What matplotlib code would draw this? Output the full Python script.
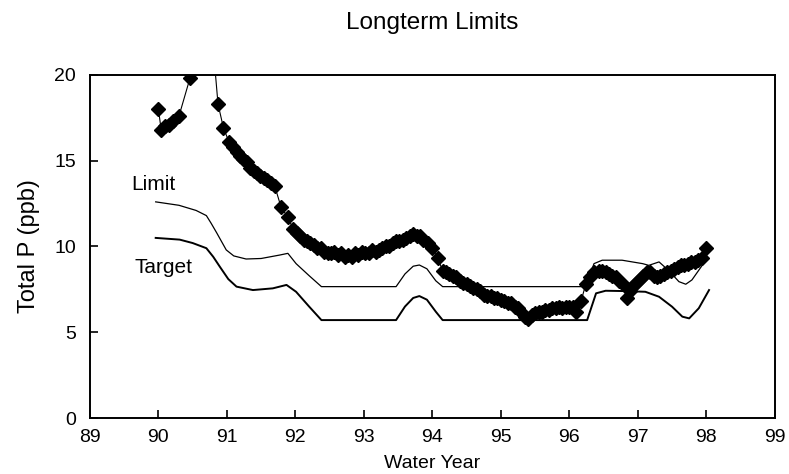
import matplotlib.pyplot as plt

plt.rcParams['font.family'] = ['Liberation Sans', 'DejaVu Sans']

# observed total P (diamonds)
obs_year = [90.00, 90.04, 90.10, 90.16, 90.22, 90.30, 90.46, 90.62, 90.78, 90.87,
            90.95, 91.03, 91.09, 91.14, 91.19, 91.24, 91.29, 91.34, 91.39, 91.44,
            91.49, 91.54, 91.59, 91.64, 91.70, 91.79, 91.89, 91.97, 92.02, 92.07,
            92.12, 92.17, 92.22, 92.27, 92.32, 92.37, 92.42, 92.47, 92.52, 92.57,
            92.62, 92.67, 92.72, 92.77, 92.82, 92.87, 92.92, 92.97, 93.02, 93.07,
            93.12, 93.17, 93.22, 93.27, 93.32, 93.37, 93.42, 93.47, 93.52, 93.57,
            93.62, 93.67, 93.72, 93.77, 93.82, 93.87, 93.93, 94.00, 94.08, 94.15,
            94.20, 94.25, 94.30, 94.35, 94.40, 94.45, 94.50, 94.55, 94.60, 94.65,
            94.70, 94.75, 94.80, 94.85, 94.90, 94.95, 95.00, 95.05, 95.10, 95.15,
            95.20, 95.25, 95.30, 95.35, 95.40, 95.45, 95.50, 95.55, 95.60, 95.65,
            95.70, 95.75, 95.80, 95.85, 95.90, 95.95, 96.00, 96.05, 96.09, 96.17,
            96.24, 96.30, 96.36, 96.43, 96.48, 96.53, 96.58, 96.63, 96.68, 96.73,
            96.78, 96.84, 96.88, 96.93, 96.98, 97.03, 97.08, 97.13, 97.18, 97.23,
            97.28, 97.33, 97.38, 97.43, 97.48, 97.53, 97.58, 97.63, 97.68, 97.73,
            97.78, 97.83, 97.88, 97.93, 98.00]
obs_p = [18.0, 16.8, 17.0, 17.1, 17.3, 17.6, 19.8, 22.5, 22.5, 18.3,
         16.9, 16.1, 15.8, 15.5, 15.3, 15.1, 14.9, 14.6, 14.4, 14.3,
         14.1, 14.0, 13.9, 13.7, 13.5, 12.3, 11.7, 11.0, 10.8, 10.6,
         10.4, 10.3, 10.2, 10.1, 9.9, 9.9, 9.7, 9.6, 9.6, 9.7,
         9.5, 9.6, 9.4, 9.5, 9.4, 9.6, 9.5, 9.7, 9.6, 9.6,
         9.8, 9.7, 9.8, 9.9, 10.0, 10.0, 10.2, 10.3, 10.3, 10.4,
         10.5, 10.6, 10.7, 10.6, 10.6, 10.4, 10.2, 9.9, 9.3, 8.6,
         8.5, 8.4, 8.3, 8.2, 8.0, 7.9, 7.8, 7.7, 7.6, 7.5,
         7.4, 7.2, 7.1, 7.1, 7.0, 7.0, 6.9, 6.8, 6.7, 6.7,
         6.5, 6.4, 6.2, 5.9, 5.8, 6.0, 6.1, 6.2, 6.2, 6.3,
         6.3, 6.4, 6.4, 6.5, 6.4, 6.5, 6.5, 6.5, 6.2, 6.8,
         7.8, 8.2, 8.5, 8.6, 8.6, 8.5, 8.4, 8.3, 8.2, 8.0,
         7.8, 7.0, 7.4, 7.7, 7.9, 8.1, 8.3, 8.5, 8.5, 8.3,
         8.2, 8.3, 8.4, 8.5, 8.6, 8.7, 8.8, 8.9, 8.9, 9.0,
         9.1, 9.1, 9.2, 9.3, 9.9]

limit_year = [89.96, 90.30, 90.55, 90.70, 90.77, 90.85, 90.99, 91.10, 91.28, 91.50,
              91.77, 91.89, 92.01, 92.20, 92.38, 93.47, 93.60, 93.72, 93.81, 93.92,
              94.05, 94.15, 96.24, 96.36, 96.48, 96.77, 97.07, 97.16, 97.31, 97.45,
              97.60, 97.70, 97.79, 97.94]
limit_p = [12.6, 12.4, 12.1, 11.8, 11.35, 10.8, 9.8, 9.45, 9.27, 9.3,
           9.5, 9.6, 9.0, 8.3, 7.66, 7.66, 8.4, 8.85, 8.92, 8.7,
           8.0, 7.66, 7.66, 9.0, 9.2, 9.2, 9.0, 8.9, 9.1, 8.6,
           7.95, 7.8, 8.05, 8.9]

target_year = [89.96, 90.31, 90.50, 90.70, 90.80, 90.90, 91.02, 91.14, 91.38, 91.67,
               91.87, 92.01, 92.20, 92.38, 93.47, 93.60, 93.72, 93.81, 93.92, 94.05,
               94.15, 96.26, 96.39, 96.53, 96.82, 97.11, 97.31, 97.50, 97.65, 97.75,
               97.89, 98.04]
target_p = [10.5, 10.4, 10.2, 9.9, 9.4, 8.8, 8.1, 7.66, 7.46, 7.56,
            7.76, 7.36, 6.5, 5.71, 5.71, 6.5, 7.0, 7.11, 6.9, 6.2,
            5.71, 5.71, 7.27, 7.42, 7.4, 7.36, 7.07, 6.49, 5.91, 5.81,
            6.4, 7.46]

fig = plt.figure(figsize=(7.89, 4.74), dpi=100)
ax = fig.add_axes([0.114, 0.118, 0.868, 0.724])

ax.plot(limit_year, limit_p, color='black', lw=0.9)
ax.plot(target_year, target_p, color='black', lw=1.4)
ax.plot(obs_year, obs_p, color='black', lw=0.8, marker='D', markersize=7.5)

ax.text(89.93, 13.6, 'Limit', fontsize=15, ha='center', va='center')
ax.text(90.07, 8.75, 'Target', fontsize=15, ha='center', va='center')

ax.set_xlim(89, 99)
ax.set_ylim(0, 20)
ax.set_xticks(range(89, 100))
ax.set_yticks([0, 5, 10, 15, 20])
ax.tick_params(direction='in', length=6, width=1.2, labelsize=14, top=False, right=False)
ax.tick_params(axis='x', pad=8)
ax.tick_params(axis='y', pad=10)
for s in ax.spines.values():
    s.set_linewidth(1.4)

ax.set_xlabel('Water Year', fontsize=14, labelpad=6)
ax.set_ylabel('Total P (ppb)', fontsize=17, labelpad=10)
ax.set_title('Longterm Limits', fontsize=17.5, pad=33)

fig.savefig('out.png', dpi=100)
